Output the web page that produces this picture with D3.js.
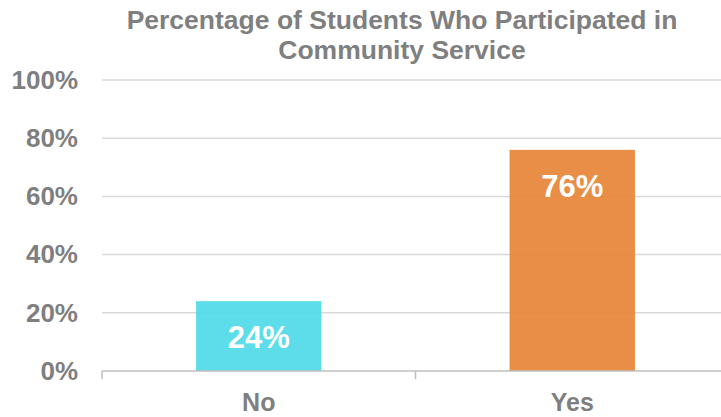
<!DOCTYPE html>
<html>
<head>
<meta charset="utf-8">
<script src="https://cdn.jsdelivr.net/npm/d3@7"></script>
<style>
  html, body { margin: 0; padding: 0; background: #fff; }
  svg { display: block; font-family: "Liberation Sans", Arial, sans-serif; }
</style>
</head>
<body>
<svg id="chart" width="721" height="417"></svg>
<script>
// Survey answers and their shares (%)
const categories = ["No", "Yes"];
const values = [24, 76];
const barColors = ["#4FDAE7", "#E78437"];
const yTicks = [0, 20, 40, 60, 80, 100];
const titleLines = ["Percentage of Students Who Participated in", "Community Service"];

const svg = d3.select("#chart");
const textColor = "#7F7F7F";

const x = d3.scaleBand().domain(categories).range([102, 729]).paddingInner(0.6).paddingOuter(0.3);
const y = d3.scaleLinear().domain([0, 100]).range([371, 80]);

// Title
svg.append("text")
  .attr("text-anchor", "middle")
  .attr("font-weight", "bold")
  .attr("font-size", 26.5)
  .attr("fill", textColor)
  .selectAll("tspan")
  .data(titleLines)
  .join("tspan")
  .attr("x", 402)
  .attr("y", (d, i) => 29 + i * 30)
  .text(d => d);

// Horizontal gridlines
svg.append("g")
  .selectAll("line")
  .data(yTicks.filter(t => t > 0))
  .join("line")
  .attr("x1", 102).attr("x2", 721)
  .attr("y1", d => y(d)).attr("y2", d => y(d))
  .attr("stroke", "#D9D9D9").attr("stroke-width", 1.5);

// Y tick labels
const yAxis = svg.append("g")
  .attr("transform", "translate(102,0)")
  .call(d3.axisLeft(y).tickValues(yTicks).tickFormat(d => d + "%").tickSize(0).tickPadding(24));
yAxis.select(".domain").remove();
yAxis.selectAll("text")
  .attr("fill", textColor)
  .attr("font-size", 26)
  .attr("font-weight", "bold")
  .attr("font-family", "Liberation Sans, Arial, sans-serif");

// Bars
svg.append("g")
  .selectAll("rect")
  .data(categories)
  .join("rect")
  .attr("x", d => x(d))
  .attr("width", x.bandwidth())
  .attr("y", (d, i) => y(values[i]))
  .attr("height", (d, i) => y(0) - y(values[i]))
  .attr("fill", (d, i) => barColors[i])
  .attr("fill-opacity", 0.92);

// X axis line with category separators
const xAxis = svg.append("g").attr("transform", `translate(0,${y(0)})`);
xAxis.append("line")
  .attr("x1", 102).attr("x2", 721)
  .attr("stroke", "#BFBFBF").attr("stroke-width", 1.5);
const step = x.step();
xAxis.selectAll("line.sep")
  .data(d3.range(categories.length))
  .join("line")
  .attr("class", "sep")
  .attr("x1", i => 102 + i * step).attr("x2", i => 102 + i * step)
  .attr("y1", 0).attr("y2", 8)
  .attr("stroke", "#BFBFBF").attr("stroke-width", 1.5);

// Category labels
svg.append("g")
  .selectAll("text")
  .data(categories)
  .join("text")
  .attr("x", d => x(d) + x.bandwidth() / 2)
  .attr("y", 411)
  .attr("text-anchor", "middle")
  .attr("font-size", 25)
  .attr("font-weight", "bold")
  .attr("fill", textColor)
  .text(d => d);

// Value labels inside the bars
svg.append("g")
  .selectAll("text")
  .data(categories)
  .join("text")
  .attr("x", d => x(d) + x.bandwidth() / 2)
  .attr("y", (d, i) => y(values[i]) + 47)
  .attr("text-anchor", "middle")
  .attr("font-size", 31)
  .attr("font-weight", "bold")
  .attr("fill", "#FFFFFF")
  .text((d, i) => values[i] + "%");
</script>
</body>
</html>
